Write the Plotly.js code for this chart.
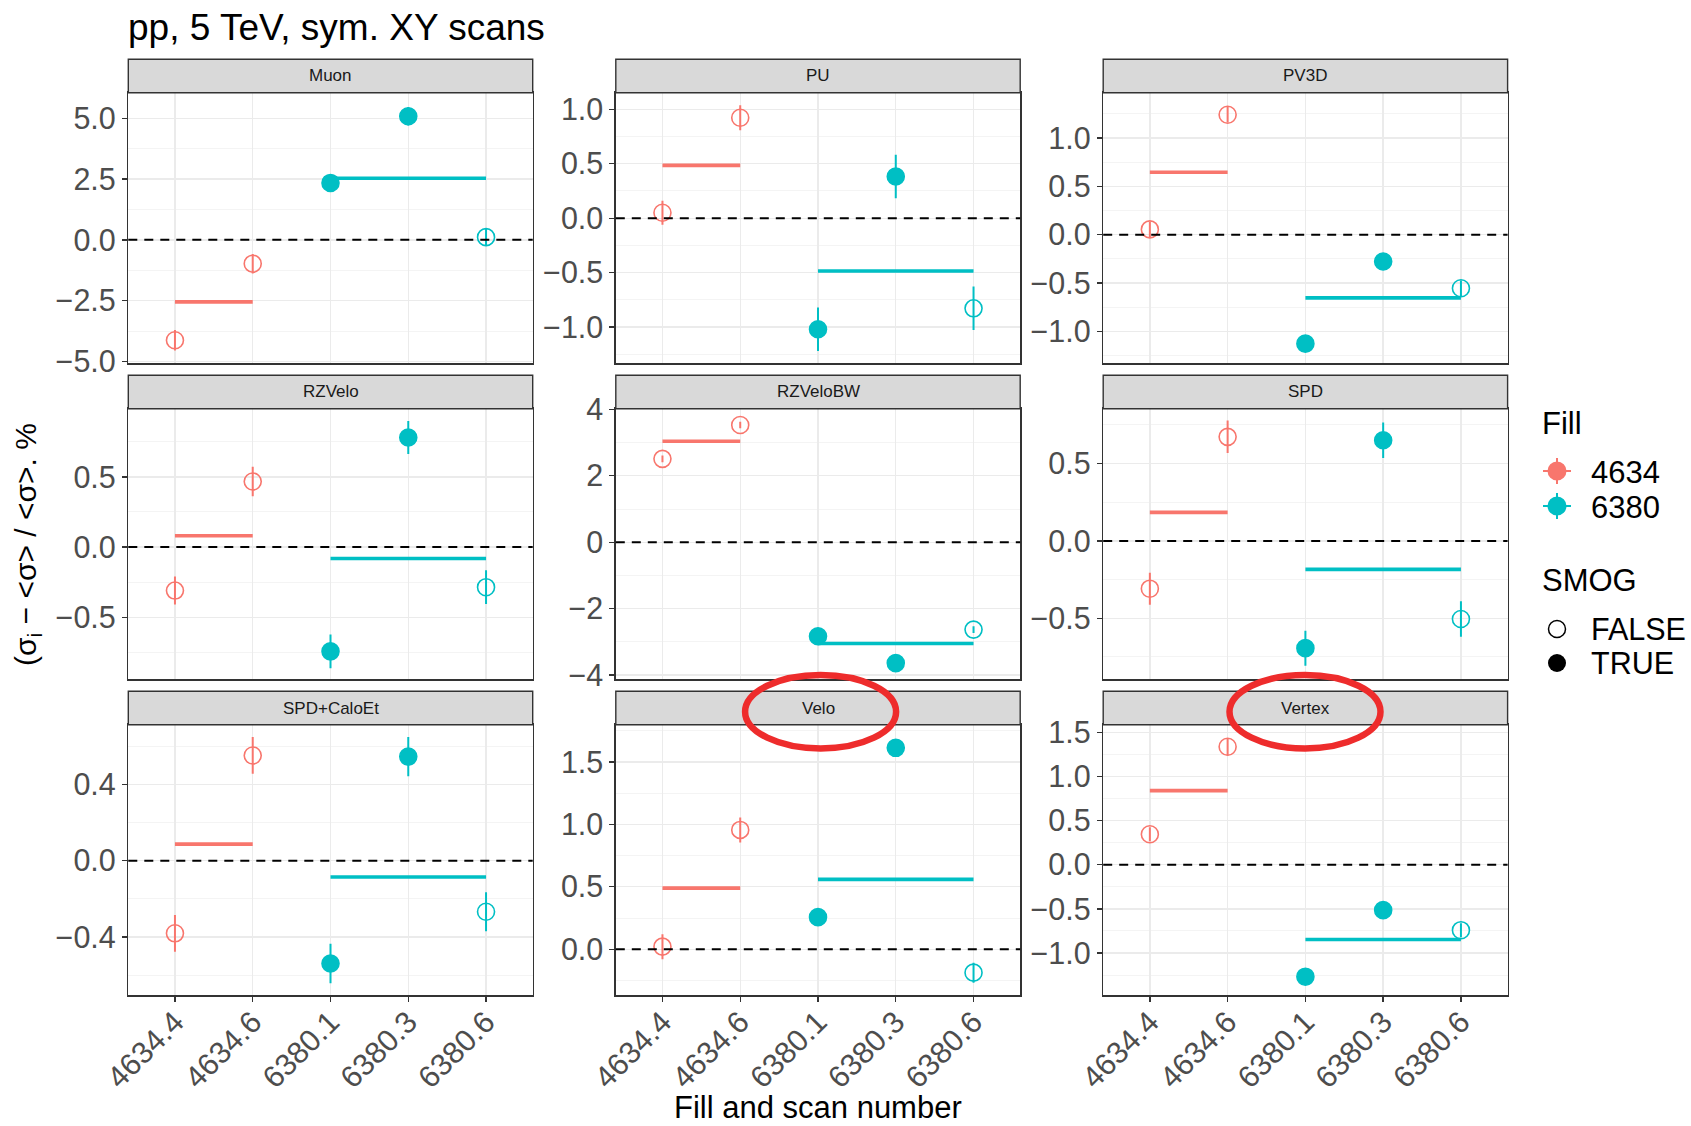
<!DOCTYPE html>
<html>
<head>
<meta charset="utf-8">
<script src="https://cdn.plot.ly/plotly-3.0.1.min.js"></script>
<style>
  html, body { margin: 0; padding: 0; background: #ffffff; }
  #chart { width: 1691px; height: 1126px; }
</style>
</head>
<body>
<div id="chart"></div>
<script>
const W = 1691, H = 1126;

// Scans on the x axis, the LHC fill of each scan, and whether SMOG gas was injected
const scans = ['4634.4', '4634.6', '6380.1', '6380.3', '6380.6'];
const scanFill = ['4634', '4634', '6380', '6380', '6380'];
const smog = [false, false, true, true, false];
const fills = ['4634', '6380'];

// One facet per luminosity counter
const panels = ['Muon', 'PU', 'PV3D', 'RZVelo', 'RZVeloBW', 'SPD', 'SPD+CaloEt', 'Velo', 'Vertex'];

// (sigma_i - <sigma>) / <sigma> in %, one value per scan
const devMuon      = [-4.13, -0.98,  2.34,  5.08,  0.11];
const devPU        = [ 0.05,  0.923, -1.02,  0.383, -0.828];
const devPV3D      = [ 0.055, 1.238, -1.124, -0.276, -0.552];
const devRZVelo    = [-0.31,  0.467, -0.743,  0.781, -0.286];
const devRZVeloBW  = [ 2.51,  3.53, -2.83, -3.64, -2.63];
const devSPD       = [-0.309, 0.672, -0.693,  0.650, -0.505];
const devSPDCaloEt = [-0.38,  0.551, -0.538,  0.545, -0.267];
const devVelo      = [ 0.021, 0.955,  0.257,  1.612, -0.187];
const devVertex    = [ 0.345, 1.337, -1.269, -0.515, -0.742];

// Statistical uncertainties of the same points, in %
const errMuon      = [0.42, 0.40, 0.35, 0.38, 0.35];
const errPU        = [0.11, 0.115, 0.20, 0.20, 0.20];
const errPV3D      = [0.08, 0.08, 0.04, 0.04, 0.08];
const errRZVelo    = [0.10, 0.105, 0.12, 0.117, 0.12];
const errRZVeloBW  = [0.10, 0.10, 0.08, 0.08, 0.10];
const errSPD       = [0.103, 0.105, 0.113, 0.115, 0.115];
const errSPDCaloEt = [0.096, 0.096, 0.103, 0.103, 0.102];
const errVelo      = [0.10, 0.10, 0.06, 0.06, 0.08];
const errVertex    = [0.08, 0.10, 0.04, 0.04, 0.08];

// Per-fill average of the deviation: [fill 4634, fill 6380]
const meanMuon      = [-2.55, 2.53];
const meanPU        = [0.485, -0.485];
const meanPV3D      = [0.645, -0.652];
const meanRZVelo    = [0.081, -0.081];
const meanRZVeloBW  = [3.04, -3.05];
const meanSPD       = [0.184, -0.184];
const meanSPDCaloEt = [0.087, -0.085];
const meanVelo      = [0.489, 0.559];
const meanVertex    = [0.84, -0.848];

const dev  = [devMuon, devPU, devPV3D, devRZVelo, devRZVeloBW, devSPD, devSPDCaloEt, devVelo, devVertex];
const err  = [errMuon, errPU, errPV3D, errRZVelo, errRZVeloBW, errSPD, errSPDCaloEt, errVelo, errVertex];
const mean = [meanMuon, meanPU, meanPV3D, meanRZVelo, meanRZVeloBW, meanSPD, meanSPDCaloEt, meanVelo, meanVertex];

// Free y scales of the facets
const yRanges = [[-5.08, 6.05], [-1.334, 1.153], [-1.328, 1.466], [-0.943, 0.986], [-4.13, 4.02],
                 [-0.895, 0.854], [-0.705, 0.712], [-0.369, 1.797], [-1.481, 1.587]];
const yStep = [2.5, 0.5, 0.5, 0.5, 2, 0.5, 0.4, 0.5, 0.5];
const yFormat = ['.1f', '.1f', '.1f', '.1f', 'd', '.1f', '.1f', '.1f', '.1f'];

const fillColors = { '4634': '#F8766D', '6380': '#00BFC4' };

// Facet grid geometry in pixels
const colX = [[128.3, 532.7], [615.8, 1020.2], [1103.2, 1507.6]];
const rowY = [[92.7, 363.4], [408.7, 679.4], [724.7, 995.4]];
const stripH = 33.4;

const px = x => x / W;
const py = y => 1 - y / H;

const FONT = 'Liberation Sans, Arial, Helvetica, sans-serif';
const TICK_SIZE = 30.5;
const traces = [];
const shapes = [];
const annotations = [];
const layout = {
  width: W, height: H,
  margin: { l: 0, r: 0, t: 0, b: 0 },
  paper_bgcolor: '#ffffff',
  plot_bgcolor: '#ffffff',
  showlegend: false,
  hovermode: false,
  font: { family: FONT, color: '#000000' },
  title: {
    text: 'pp, 5 TeV, sym. XY scans',
    xref: 'container', yref: 'container',
    x: px(128), xanchor: 'left',
    y: 1 - 27 / H, yanchor: 'middle',
    font: { family: FONT, size: 37, color: '#000000' }
  }
};

panels.forEach((name, i) => {
  const row = Math.floor(i / 3), col = i % 3;
  const k = i === 0 ? '' : String(i + 1);
  const xa = 'x' + k, ya = 'y' + k;
  const [x0, x1] = colX[col];
  const [y0, y1] = rowY[row];
  const plotH = y1 - y0;

  layout['xaxis' + k] = {
    domain: [px(x0), px(x1)], anchor: ya,
    type: 'category', categoryorder: 'array', categoryarray: scans,
    range: [-0.6, 4.6], fixedrange: true,
    showgrid: true, gridcolor: '#EBEBEB', gridwidth: 1.4,
    zeroline: false,
    showline: true, mirror: true, linecolor: '#333333', linewidth: 1.4,
    ticks: row === 2 ? 'outside' : '', ticklen: 5, tickwidth: 1.4, tickcolor: '#333333',
    showticklabels: row === 2, tickangle: -45, ticklabelstandoff: -10,
    tickfont: { family: FONT, size: TICK_SIZE, color: '#4D4D4D' }
  };
  layout['yaxis' + k] = {
    domain: [py(y1), py(y0)], anchor: xa,
    range: yRanges[i], fixedrange: true,
    tick0: 0, dtick: yStep[i], tickformat: yFormat[i],
    showgrid: true, gridcolor: '#EBEBEB', gridwidth: 1.4,
    minor: { tick0: 0, dtick: yStep[i] / 2, showgrid: true, gridcolor: '#F3F3F3', gridwidth: 0.9 },
    zeroline: false,
    showline: true, mirror: true, linecolor: '#333333', linewidth: 1.4,
    ticks: 'outside', ticklen: 5, tickwidth: 1.4, tickcolor: '#333333',
    tickfont: { family: FONT, size: TICK_SIZE, color: '#4D4D4D' }
  };

  // facet strip
  shapes.push({
    type: 'rect', layer: 'above',
    xref: xa + ' domain', yref: ya + ' domain',
    x0: 0, x1: 1, y0: 1, y1: 1 + stripH / plotH,
    fillcolor: '#D9D9D9', line: { color: '#333333', width: 1.4 }
  });
  annotations.push({
    text: name, showarrow: false,
    xref: xa + ' domain', yref: ya + ' domain',
    x: 0.5, y: 1 + stripH / (2 * plotH), xanchor: 'center', yanchor: 'middle',
    font: { family: FONT, size: 17, color: '#1A1A1A' }
  });

  // reference line at zero deviation
  shapes.push({
    type: 'line', layer: 'above',
    xref: xa + ' domain', yref: ya,
    x0: 0, x1: 1, y0: 0, y1: 0,
    line: { color: '#000000', width: 2, dash: '9px,7px' }
  });

  // per-fill average drawn across that fill's scans
  fills.forEach((f, fi) => {
    const idx = scans.map((s, j) => j).filter(j => scanFill[j] === f);
    traces.push({
      type: 'scatter', mode: 'lines', xaxis: xa, yaxis: ya,
      x: [scans[idx[0]], scans[idx[idx.length - 1]]],
      y: [mean[i][fi], mean[i][fi]],
      line: { color: fillColors[f], width: 3.6 },
      hoverinfo: 'skip'
    });
  });

  // scan points with error bars; filled when SMOG was on
  fills.forEach(f => {
    const idx = scans.map((s, j) => j).filter(j => scanFill[j] === f);
    const c = fillColors[f];
    traces.push({
      type: 'scatter', mode: 'markers', xaxis: xa, yaxis: ya,
      x: idx.map(j => scans[j]),
      y: idx.map(j => dev[i][j]),
      error_y: { type: 'data', array: idx.map(j => err[i][j]), visible: true, color: c, thickness: 2, width: 0 },
      marker: {
        symbol: idx.map(j => smog[j] ? 'circle' : 'circle-open'),
        size: 17, color: c, line: { color: c, width: 1.6 }
      },
      hoverinfo: 'skip'
    });
  });
});

// axis titles
annotations.push({
  text: 'Fill and scan number', showarrow: false,
  xref: 'paper', yref: 'paper', x: px(818), y: 0,
  xanchor: 'center', yanchor: 'bottom', borderpad: 0,
  font: { family: FONT, size: 31, color: '#000000' }
});
annotations.push({
  text: '(σ<sub>i</sub> − &lt;σ&gt; / &lt;σ&gt;. %', showarrow: false, textangle: -90,
  xref: 'paper', yref: 'paper', x: px(27), y: py(545),
  xanchor: 'center', yanchor: 'middle',
  font: { family: FONT, size: 30, color: '#000000' }
});

// legend: glyph helpers in pixel units around an anchor point
function dot(cx, cy, r, fill, stroke, sw) {
  shapes.push({
    type: 'circle', layer: 'above', xref: 'paper', yref: 'paper',
    xsizemode: 'pixel', ysizemode: 'pixel', xanchor: px(cx), yanchor: py(cy),
    x0: -r, x1: r, y0: -r, y1: r,
    fillcolor: fill, line: { color: stroke, width: sw }
  });
}
function tick(cx, cy, dx, dy, color) {
  shapes.push({
    type: 'line', layer: 'above', xref: 'paper', yref: 'paper',
    xsizemode: 'pixel', ysizemode: 'pixel', xanchor: px(cx), yanchor: py(cy),
    x0: -dx, x1: dx, y0: -dy, y1: dy,
    line: { color: color, width: 2 }
  });
}
function label(text, x, y, size) {
  annotations.push({
    text: text, showarrow: false, xref: 'paper', yref: 'paper',
    x: px(x), y: py(y), xanchor: 'left', yanchor: 'middle',
    font: { family: FONT, size: size, color: '#000000' }
  });
}

const legendFillY = [471, 506];
label('Fill', 1540, 423, 31);
fills.forEach((f, fi) => {
  const cy = legendFillY[fi];
  tick(1557, cy, 14, 0, fillColors[f]);
  tick(1557, cy, 0, 13, fillColors[f]);
  dot(1557, cy, 9.5, fillColors[f], fillColors[f], 0);
  label(f, 1589, cy + 1, 31);
});

const smogLevels = ['FALSE', 'TRUE'];
const legendSmogY = [629, 663];
label('SMOG', 1540, 580, 31);
smogLevels.forEach((s, si) => {
  const cy = legendSmogY[si];
  if (s === 'TRUE') dot(1557, cy, 9, '#000000', '#000000', 0);
  else dot(1557, cy, 8.5, 'rgba(0,0,0,0)', '#000000', 1.5);
  label(s, 1589, cy, 30.5);
});

// highlight ellipses around the Velo and Vertex strips
const highlightCX = [820.6, 1305];
highlightCX.forEach(cx => {
  shapes.push({
    type: 'circle', layer: 'above', xref: 'paper', yref: 'paper',
    x0: px(cx - 75.5), x1: px(cx + 75.5), y0: py(711.7 + 36.7), y1: py(711.7 - 36.7),
    fillcolor: 'rgba(0,0,0,0)', line: { color: '#EE2C2C', width: 6.5 }
  });
});

layout.shapes = shapes;
layout.annotations = annotations;

Plotly.newPlot('chart', traces, layout, { staticPlot: true, displayModeBar: false });
</script>
</body>
</html>
